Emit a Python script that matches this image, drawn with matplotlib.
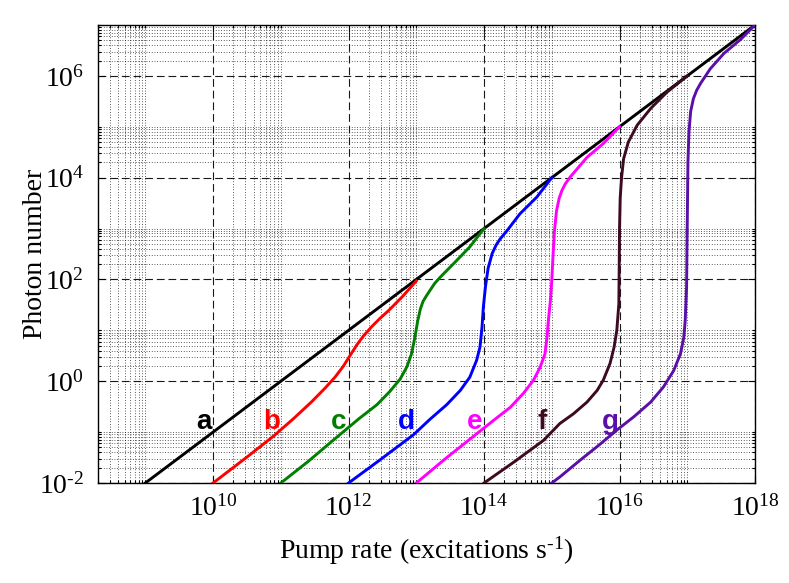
import numpy as np
import matplotlib
matplotlib.use('Agg')
import matplotlib.pyplot as plt
from matplotlib.ticker import FixedLocator, NullFormatter, FixedFormatter

plt.rcParams['font.family'] = ['Liberation Serif', 'DejaVu Serif']
plt.rcParams['mathtext.fontset'] = 'custom'
plt.rcParams['mathtext.rm'] = 'Liberation Serif'
plt.rcParams['mathtext.it'] = 'Liberation Serif:italic'
plt.rcParams['mathtext.bf'] = 'Liberation Serif:bold'

# ---- data (log10 values) ----
curve_names = ['a', 'b', 'c', 'd', 'e', 'f', 'g']
curve_colors = ['#000000', '#ff0000', '#007f00', '#0000ff', '#ff00ff', '#3d0a22', '#5a10a8']

a_logP = [9.0, 18.0]
a_logN = [-2.0, 7.0]

b_logP = [10.0, 10.5, 10.9, 11.2, 11.45, 11.65, 11.8, 11.92, 12.02, 12.12, 12.22, 12.34,
          12.46, 12.6, 12.8, 13.0]
b_logN = [-2.0, -1.49, -1.07, -0.72, -0.41, -0.14, 0.08, 0.29, 0.50, 0.71, 0.89, 1.07,
          1.23, 1.40, 1.67, 1.97]

c_logP = [11.0, 11.4, 11.8, 12.15, 12.42, 12.61, 12.76, 12.86, 12.93, 12.98, 13.02, 13.06,
          13.1, 13.15, 13.2, 13.27, 13.35, 13.55, 13.79, 14.0]
c_logN = [-2.0, -1.58, -1.13, -0.74, -0.46, -0.2, 0.04, 0.28, 0.54, 0.87, 1.18, 1.42,
          1.57, 1.68, 1.78, 1.92, 2.04, 2.31, 2.64, 3.0]

d_logP = [12.0, 12.46, 12.96, 13.2, 13.45, 13.65, 13.79, 13.89, 13.94, 13.97, 13.99, 14.02,
          14.06, 14.12, 14.18, 14.24, 14.34, 14.53, 14.78, 15.0]
d_logN = [-2.0, -1.55, -1.05, -0.75, -0.46, -0.18, 0.08, 0.41, 0.67, 1.06, 1.46, 1.85,
          2.22, 2.51, 2.68, 2.80, 2.96, 3.29, 3.62, 4.0]

e_logP = [13.0, 13.45, 13.8, 14.14, 14.39, 14.58, 14.73, 14.83, 14.90, 14.93, 14.95, 14.98,
          15.0, 15.02, 15.04, 15.07, 15.11, 15.15, 15.2, 15.27, 15.52, 15.76, 16.0]
e_logN = [-2.0, -1.5, -1.13, -0.77, -0.51, -0.24, 0.02, 0.28, 0.54, 0.87, 1.20, 1.59,
          1.98, 2.51, 2.96, 3.35, 3.6, 3.75, 3.88, 4.01, 4.40, 4.67, 5.0]

f_logP = [14.0, 14.45, 14.88, 15.12, 15.32, 15.52, 15.67, 15.76, 15.86, 15.92, 15.96, 15.99,
          15.995, 16.0, 16.01, 16.03, 16.06, 16.13, 16.26, 16.46, 16.70, 17.0]
f_logN = [-2.0, -1.58, -1.16, -0.83, -0.64, -0.41, -0.18, 0.02, 0.35, 0.67, 1.0, 1.52,
          2.2, 3.0, 3.6, 4.0, 4.37, 4.70, 5.03, 5.36, 5.68, 6.0]

g_logP = [15.0, 15.12, 15.42, 15.72, 15.96, 16.21, 16.46, 16.65, 16.80, 16.90, 16.95, 16.97,
          16.99, 16.995, 17.0, 17.01, 17.025, 17.05, 17.09, 17.14, 17.2, 17.34, 17.54, 17.79, 18.0]
g_logN = [-2.0, -1.88, -1.55, -1.23, -0.96, -0.70, -0.41, -0.11, 0.21, 0.54, 0.87, 1.20,
          1.85, 2.51, 3.1, 4.3, 4.9, 5.3, 5.55, 5.72, 5.86, 6.14, 6.44, 6.72, 7.0]

curves_logP = [a_logP, b_logP, c_logP, d_logP, e_logP, f_logP, g_logP]
curves_logN = [a_logN, b_logN, c_logN, d_logN, e_logN, f_logN, g_logN]

x_major_exp = [10, 12, 14, 16, 18]
y_major_exp = [-2, 0, 2, 4, 6]


def tick_labels(exps, use_text):
    out = []
    for e in exps:
        if e < 0 and use_text:
            out.append('$\\mathregular{10^{\\text{-%d}}}$' % (-e))
        else:
            out.append('$\\mathregular{10^{%d}}$' % e)
    return out


def build(use_text):
    fig = plt.figure(figsize=(7.89, 5.83), dpi=100)
    ax = fig.add_axes([98/789, 1-483/583, (755-98)/789, (483-25)/583])
    ax.set_xscale('log')
    ax.set_yscale('log')
    ax.set_xlim(2e8, 1e18)
    ax.set_ylim(1e-2, 1e7)

    for lp, ln, col in zip(curves_logP, curves_logN, curve_colors):
        ax.plot(10**np.array(lp), 10**np.array(ln), color=col, lw=2.1,
                solid_joinstyle='round', zorder=3)

    for name, lp, col in zip(curve_names, curves_logP, curve_colors):
        ax.text(10**(lp[0] + 0.86), 10**(-0.81), name, color=col, fontsize=20,
                fontweight='bold', family='Liberation Sans', ha='center', va='center', zorder=4)

    ax.xaxis.set_major_locator(FixedLocator([10.0**e for e in x_major_exp]))
    ax.yaxis.set_major_locator(FixedLocator([10.0**e for e in y_major_exp]))
    xminor = [m * 10.0**k for k in range(8, 18, 2) for m in range(2, 11)]
    yminor = [m * 10.0**k for k in range(-2, 8, 2) for m in range(2, 11)]
    ax.xaxis.set_minor_locator(FixedLocator(xminor))
    ax.yaxis.set_minor_locator(FixedLocator(yminor))
    ax.xaxis.set_major_formatter(FixedFormatter(tick_labels(x_major_exp, use_text)))
    ax.yaxis.set_major_formatter(FixedFormatter(tick_labels(y_major_exp, use_text)))
    ax.xaxis.set_minor_formatter(NullFormatter())
    ax.yaxis.set_minor_formatter(NullFormatter())

    ax.tick_params(which='both', direction='in', top=True, right=True, width=0.8)
    ax.tick_params(which='major', length=5, labelsize=20)
    ax.tick_params(which='minor', length=2.5)
    ax.tick_params(axis='x', which='major', pad=9)
    ax.tick_params(axis='y', which='major', pad=10)

    ax.grid(True, which='major', color='k', linestyle=(0, (7, 3.5)), linewidth=0.8, alpha=0.9)
    ax.grid(True, which='minor', color='k', linestyle=(0, (1, 2.2)), linewidth=0.6, alpha=0.85)
    ax.set_axisbelow(True)

    for s in ax.spines.values():
        s.set_linewidth(1.0)

    if use_text:
        xl = 'Pump rate (excitations s$^{\\text{-1}}$)'
    else:
        xl = 'Pump rate (excitations s$^{\\mathregular{-1}}$)'
    ax.set_xlabel(xl, fontsize=20, labelpad=9)
    ax.set_ylabel('Photon number', fontsize=20)
    ax.yaxis.set_label_coords((48 - 98) / 657, 0.5)
    fig.canvas.draw()
    return fig


try:
    fig = build(True)
except Exception:
    plt.close('all')
    fig = build(False)

fig.savefig('out.png', dpi=100)
